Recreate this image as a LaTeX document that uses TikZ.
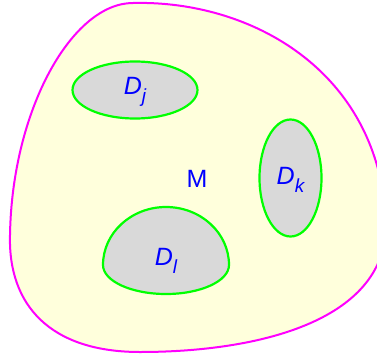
\documentclass[tikz,border=0pt]{standalone}
\usepackage{fontspec}
\setmainfont{Liberation Sans}
\usetikzlibrary{shapes.geometric}
\definecolor{bgyellow}{RGB}{255,255,220}
\definecolor{regiongray}{RGB}{217,217,217}
\definecolor{edgemagenta}{RGB}{255,0,255}
\definecolor{edgegreen}{RGB}{0,255,0}
\definecolor{textblue}{RGB}{0,0,255}
\newcommand{\bigf}{\fontsize{25}{29}\selectfont}
\newcommand{\subf}{\fontsize{19}{22}\selectfont}
\newcommand{\Dsub}[1]{{\bigf\itshape D\raisebox{-0.3em}{\subf #1}}}
\tikzset{
  outer/.style={draw=edgemagenta, fill=bgyellow, line width=2pt},
  region/.style={draw=edgegreen, fill=regiongray, line width=2.2pt},
  lbl/.style={text=textblue, inner sep=0pt},
  ellreg/.style={region, ellipse, inner sep=0pt}
}
\begin{document}
\begin{tikzpicture}[x=1pt,y=1pt]
\useasboundingbox (0,0) rectangle (377,360);
\clip (0,0) rectangle (377,360);
\path[outer] (133,357) .. controls (250,360) and (378,290) .. (386,140)
  .. controls (390,40) and (260,8) .. (140,8)
  .. controls (50,8) and (8,55) .. (10,125)
  .. controls (12,250) and (72,357) .. (133,357) -- cycle;
\node[ellreg, minimum width=125pt, minimum height=57pt] (dj) at (135,270) {};
\node[lbl] (djl) at (135,268) {\Dsub{j}};
\node[ellreg, minimum width=62pt, minimum height=117pt] (dk) at (290.5,182) {};
\node[lbl] (dkl) at (290.5,180) {\Dsub{k}};
\path[region] (103,95) arc[start angle=180, end angle=0, x radius=63, y radius=58]
  arc[start angle=0, end angle=-180, x radius=63, y radius=29] -- cycle;
\node[lbl] (dll) at (166,99) {\Dsub{l}};
\node[lbl] (m) at (197,181) {\bigf M};
\end{tikzpicture}
\end{document}
